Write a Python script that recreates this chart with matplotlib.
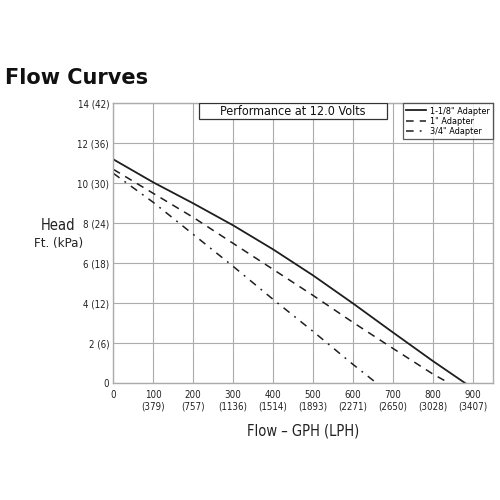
import matplotlib.pyplot as plt

plt.rcParams['font.family'] = ['DejaVu Sans']
plt.rcParams['font.stretch'] = 'condensed'

# flow in GPH, head in feet
flow_118 = [0, 100, 200, 300, 400, 500, 600, 700, 800, 882]
head_118 = [11.2, 10.05, 9.0, 7.9, 6.7, 5.4, 4.0, 2.55, 1.12, 0]

flow_1 = [0, 100, 200, 300, 400, 500, 600, 700, 800, 842]
head_1 = [10.7, 9.5, 8.3, 7.0, 5.7, 4.4, 3.05, 1.75, 0.47, 0]

flow_34 = [0, 100, 200, 300, 400, 500, 600, 660]
head_34 = [10.5, 9.05, 7.45, 5.85, 4.2, 2.6, 0.95, 0]

x_ticks = [0, 100, 200, 300, 400, 500, 600, 700, 800, 900]
x_labels = ['0', '100\n(379)', '200\n(757)', '300\n(1136)', '400\n(1514)',
            '500\n(1893)', '600\n(2271)', '700\n(2650)', '800\n(3028)', '900\n(3407)']
y_ticks = [0, 2, 4, 6, 8, 10, 12, 14]
y_labels = ['0', '2 (6)', '4 (12)', '6 (18)', '8 (24)', '10 (30)', '12 (36)', '14 (42)']

fig = plt.figure(figsize=(5, 5), dpi=100)
ax = fig.add_axes([0.2267, 0.2333, 0.7586, 0.56])

grey = '#ababab'
ink = '#1e1e1e'

ax.plot(flow_118, head_118, color=ink, lw=1.3, label='1-1/8" Adapter')
ax.plot(flow_1, head_1, color=ink, lw=1.1, dashes=(5, 4), label='1" Adapter')
ax.plot(flow_34, head_34, color=ink, lw=1.1, dashes=(5, 4, 1.2, 4), label='3/4" Adapter')

ax.set_xlim(0, 950)
ax.set_ylim(0, 14)
ax.set_xticks(x_ticks)
ax.set_xticklabels(x_labels, fontsize=7, color='#222222')
ax.set_yticks(y_ticks)
ax.set_yticklabels(y_labels, fontsize=7, color='#222222')
ax.tick_params(axis='y', length=0, pad=3)
ax.tick_params(axis='x', length=0, pad=5)
ax.grid(True, color=grey, lw=0.8)
for s in ax.spines.values():
    s.set_color(grey)
    s.set_linewidth(1.0)

# header box
ax.add_patch(plt.Rectangle((0.2267, 0.944), 0.4953, 0.056, transform=ax.transAxes,
                           facecolor='white', edgecolor='#333333', lw=0.9, zorder=3))
ax.text(0.474, 0.971, 'Performance at 12.0 Volts', transform=ax.transAxes,
        ha='center', va='center', fontsize=9, color='#111111', zorder=4)

leg = ax.legend(loc='upper right', fontsize=6.5, frameon=True, fancybox=False,
                borderaxespad=0, handlelength=2.2, handletextpad=0.4,
                borderpad=0.35, labelspacing=0.15)
leg.get_frame().set_edgecolor('#333333')
leg.get_frame().set_linewidth(0.9)

fig.text(0.01, 0.845, 'Flow Curves', fontsize=15, fontweight='bold', fontstretch='normal',
         ha='left', va='center', color='#111111')
fig.text(0.117, 0.548, 'Head', fontsize=10.5, ha='center', va='center', color='#222222')
fig.text(0.117, 0.514, 'Ft. (kPa)', fontsize=9.5, ha='center', va='center', color='#222222')
fig.text(0.606, 0.138, 'Flow \u2013 GPH (LPH)', fontsize=10.5, ha='center', va='center',
         color='#222222')

fig.savefig('out.png', dpi=100)
